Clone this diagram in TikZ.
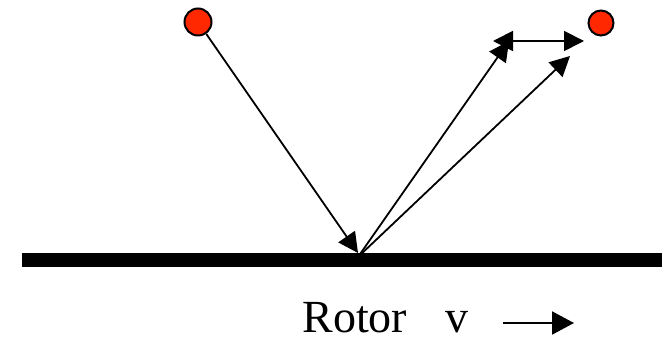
\documentclass[tikz,border=0pt]{standalone}
\usepackage{fontspec}
\setmainfont{Liberation Serif}
\usepackage{xcolor}
\usetikzlibrary{arrows.meta,positioning,calc}

\definecolor{ballred}{RGB}{255,40,0}

\begin{document}
\begin{tikzpicture}[
    x=0.5pt, y=-0.5pt,
    ball/.style={circle, draw=black, fill=ballred, line width=1pt, inner sep=0pt},
    rotorbar/.style={line width=6.5pt},
    ray/.style={-{Triangle[length=10pt, width=10pt]}, line width=0.9pt},
    label/.style={font=\fontsize{23}{27}\selectfont, inner sep=0pt, anchor=base west}
]
    \useasboundingbox (0,0) rectangle (662,341);

    % balls and rotor surface
    \node [ball, minimum size=13.5pt] (lball) at (198,22) {};
    \node [ball, minimum size=12.5pt] (rball) at (601,23) {};
    \coordinate (barL) at (22,260);
    \coordinate (barR) at (662,260);
    \draw [rotorbar] (barL) -- (barR);

    % impact point and end points of the rays
    \coordinate (hit) at (358,253);
    \coordinate (foot) at (358,257);
    \coordinate (tipA) at (509,41);
    \coordinate (tipB) at (570,56);
    \coordinate (dblL) at (493,41);
    \coordinate (dblR) at (584,41);

    \draw [ray] (lball) -- (hit);
    \draw [ray] (foot) -- (tipA);
    \draw [ray] (foot) -- (tipB);
    \draw [ray, {Triangle[length=10pt, width=10pt]}-{Triangle[length=10pt, width=10pt]}] (dblL) -- (dblR);

    % label
    \node [label] (rotor) at (302,332) {Rotor};
    \node [label] (vel) at (445,332) {v};
    \coordinate (vstart) at (503,323);
    \coordinate (vend) at (574,323);
    \draw [-{Triangle[length=11pt, width=11.5pt]}, line width=1pt] (vstart) -- (vend);
\end{tikzpicture}
\end{document}
